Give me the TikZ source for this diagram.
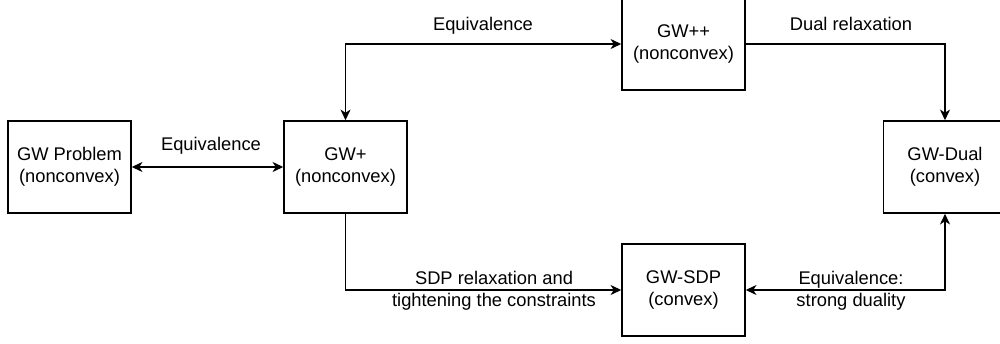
\documentclass[tikz,border=0pt]{standalone}
\usepackage{fontspec}
\setmainfont{Liberation Sans}
\usetikzlibrary{arrows.meta}
\newcommand{\boxtext}[2]{\raisebox{-1.6pt}{\begin{tabular}{@{}c@{}}#1\\#2\end{tabular}}}
\begin{document}
\begin{tikzpicture}[x=0.75pt,y=-0.75pt,
  every node/.style={font=\fontsize{13.75}{16.7}\selectfont},
  boxnode/.style={draw=black,line width=1.15pt,minimum width=92.25pt,minimum height=69pt,align=center,inner sep=0pt},
  lbl/.style={align=center,inner sep=0pt},
  conn/.style={line width=1.15pt,arrows={-}},
  tip/.tip={Stealth[length=8pt,width=7.5pt,inset=2.4pt]}]
\clip (0,0) rectangle (1000,343);
\fill[white] (0,0) rectangle (1000,343);
\node[boxnode] (gwp) at (69.5,167) {\boxtext{GW Problem}{(nonconvex)}};
\node[boxnode] (gwplus) at (345.5,167) {\boxtext{GW+}{(nonconvex)}};
\node[boxnode] (gwpp) at (683.5,44) {\boxtext{GW++}{(nonconvex)}};
\node[boxnode] (gwdual) at (945,167) {\boxtext{GW-Dual}{(convex)}};
\node[boxnode] (gwsdp) at (683.5,290) {\boxtext{GW-SDP}{(convex)}};
\draw[conn,tip-tip] (gwp) -- (gwplus);
\draw[conn,tip-tip] (gwplus.north) |- (gwpp.west);
\draw[conn,-tip] (gwpp.east) -| (gwdual.north);
\draw[conn,-tip] (gwplus.south) |- (gwsdp.west);
\draw[conn,tip-tip] (gwsdp.east) -| (gwdual.south);
\node[lbl,anchor=base] (l1) at (211,150) {Equivalence};
\node[lbl,anchor=base] (l2) at (483,30.5) {Equivalence};
\node[lbl,anchor=base] (l3) at (851,30.5) {Dual relaxation};
\node[lbl] (l4) at (494,291) {SDP relaxation and\\tightening the constraints};
\node[lbl] (l5) at (851,291) {Equivalence:\\strong duality};
\end{tikzpicture}
\end{document}
